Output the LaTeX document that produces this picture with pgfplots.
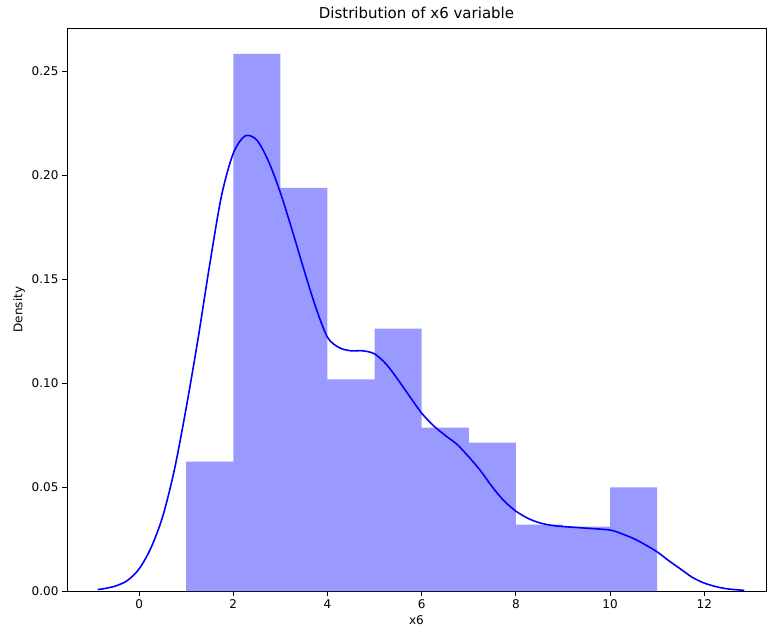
\documentclass[border=0pt]{standalone}
\usepackage{pgfplots}
\pgfplotsset{compat=1.18}
\usepackage{fontspec}
\setmainfont{DejaVu Sans}
\definecolor{barfill}{HTML}{9999FF}
\begin{document}
\begin{tikzpicture}
\begin{axis}[
  scale only axis,
  width=699pt, height=563pt,
  xmin=-1.53, xmax=13.31,
  ymin=0, ymax=0.2707,
  xtick={0,2,4,6,8,10,12},
  ytick={0,0.05,0.10,0.15,0.20,0.25},
  yticklabel style={/pgf/number format/.cd, fixed, fixed zerofill, precision=2},
  /pgf/number format/assume math mode=true,
  tick label style={font=\fontsize{12}{14}\selectfont},
  label style={font=\fontsize{12}{14}\selectfont},
  title style={font=\fontsize{15}{18}\selectfont},
  title={Distribution of x6 variable},
  xlabel={x6}, ylabel={Density},
  tick align=outside, tickwidth=5pt,
  xtick pos=bottom, ytick pos=left,
  axis line style={black, line width=0.9pt},
  major tick style={black, line width=0.9pt},
]
\coordinate (sw) at (rel axis cs:0,0);
\coordinate (ne) at (rel axis cs:1,1);
\addplot[ybar interval, fill=barfill, draw=none] coordinates {
(1,0.0622) (2,0.2582) (3,0.1938) (4,0.1018) (5,0.1261) (6,0.0785) (7,0.0713) (8,0.0319) (9,0.0309) (10,0.0498) (11,0.0498)
};
\addplot[blue, line width=1.6pt, smooth] coordinates {
(-0.88,0.0007) (-0.75,0.0011) (-0.5,0.0024) (-0.25,0.0050) (0,0.0106) (0.25,0.0206) (0.5,0.0357) (0.75,0.0583) (1.0,0.088) (1.25,0.121) (1.5,0.157) (1.75,0.190) (2.0,0.2104) (2.25,0.2188) (2.5,0.2168) (2.75,0.2065) (3.0,0.1915) (3.25,0.1735) (3.5,0.1545) (3.75,0.1365) (4.0,0.122) (4.25,0.117) (4.5,0.1155) (4.75,0.1155) (5.0,0.1140) (5.25,0.109) (5.5,0.1015) (5.75,0.0934) (6.0,0.0855) (6.25,0.0795) (6.5,0.0748) (6.75,0.0705) (7.0,0.0645) (7.25,0.0578) (7.5,0.050) (7.75,0.0433) (8.0,0.0384) (8.25,0.035) (8.5,0.0328) (8.75,0.0316) (9.0,0.031) (9.5,0.0302) (10.0,0.0293) (10.25,0.0275) (10.5,0.0252) (10.75,0.0222) (11.0,0.0188) (11.25,0.0145) (11.5,0.0105) (11.75,0.0065) (12.0,0.0038) (12.25,0.0021) (12.5,0.0010) (12.85,0.0003)
};
\end{axis}
\pgfresetboundingbox
\path ([shift={(-67pt,-41pt)}]sw) rectangle ([shift={(1pt,28pt)}]ne);
\end{tikzpicture}
\end{document}
